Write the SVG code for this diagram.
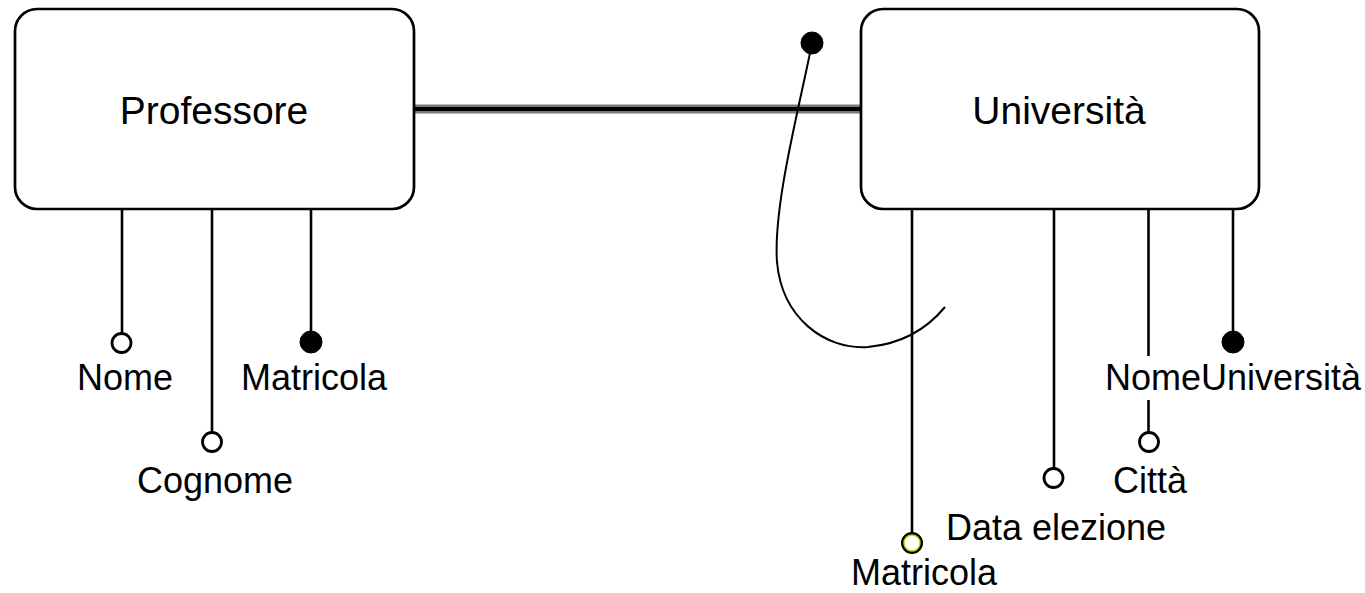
<svg xmlns="http://www.w3.org/2000/svg" width="1365" height="593" viewBox="0 0 1365 593">
<style>
.ent{fill:#fff;stroke:#000;stroke-width:2.7}
.et{font-family:"Liberation Sans",Arial,sans-serif;font-size:39px;fill:#000;text-anchor:middle}
.at{font-family:"Liberation Sans",Arial,sans-serif;font-size:36px;fill:#000;text-anchor:middle}
.ln{stroke:#000;stroke-width:2.6;fill:none}
.oc{fill:#fff;stroke:#000;stroke-width:2.8}
.fc{fill:#000;stroke:#000;stroke-width:1}
</style>
<rect width="1365" height="593" fill="#fff"/>
<g id="connectors">
  <line x1="414" y1="109" x2="861" y2="109" stroke="#7a7a7a" stroke-width="9"/>
  <line x1="414" y1="109" x2="861" y2="109" stroke="#000" stroke-width="4"/>
  <path d="M812,43 C800,105 773,205 777,262 C782,318 825,350 868,347 C900,344 926,330 945,307" fill="none" stroke="#000" stroke-width="2"/>
  <circle cx="812" cy="43" r="11" class="fc"/>
  <line x1="122" y1="209" x2="122" y2="333" class="ln"/>
  <line x1="212" y1="209" x2="212" y2="432" class="ln"/>
  <line x1="311" y1="209" x2="311" y2="332" class="ln"/>
  <line x1="912" y1="209" x2="912" y2="533" class="ln"/>
  <line x1="1054" y1="209" x2="1054" y2="468" class="ln"/>
  <line x1="1148.5" y1="209" x2="1148.5" y2="356" class="ln"/>
  <line x1="1148.5" y1="400" x2="1148.5" y2="432" class="ln"/>
  <line x1="1233" y1="209" x2="1233" y2="332" class="ln"/>
</g>
<g id="professore">
  <rect x="15" y="9" width="399" height="200" rx="22" class="ent"/>
  <text x="214" y="124" class="et">Professore</text>
</g>
<g id="universita">
  <rect x="861" y="9" width="398" height="200" rx="22" class="ent"/>
  <text x="1059" y="124" class="et">Università</text>
</g>
<g id="attr-nome">
  <circle cx="121.5" cy="343" r="9.5" class="oc"/>
  <text x="125" y="390" class="at">Nome</text>
</g>
<g id="attr-cognome">
  <circle cx="212" cy="442" r="9.5" class="oc"/>
  <text x="215" y="493" class="at">Cognome</text>
</g>
<g id="attr-matricola-prof">
  <circle cx="311" cy="342" r="11" class="fc"/>
  <text x="314" y="390" class="at">Matricola</text>
</g>
<g id="attr-matricola-univ">
  <circle cx="912" cy="543" r="9.5" fill="#fff" stroke="#000" stroke-width="3"/>
  <circle cx="912" cy="543" r="8" fill="none" stroke="#c8d200" stroke-width="1.5"/>
  <text x="924" y="585" class="at">Matricola</text>
</g>
<g id="attr-data-elezione">
  <circle cx="1053.5" cy="478" r="9.5" class="oc"/>
  <text x="1056" y="540" class="at">Data elezione</text>
</g>
<g id="attr-citta">
  <circle cx="1149" cy="442" r="9.5" class="oc"/>
  <text x="1150" y="493" class="at">Città</text>
</g>
<g id="attr-nomeuniversita">
  <circle cx="1233" cy="342" r="11" class="fc"/>
  <text x="1233" y="390" class="at">NomeUniversità</text>
</g>
</svg>
